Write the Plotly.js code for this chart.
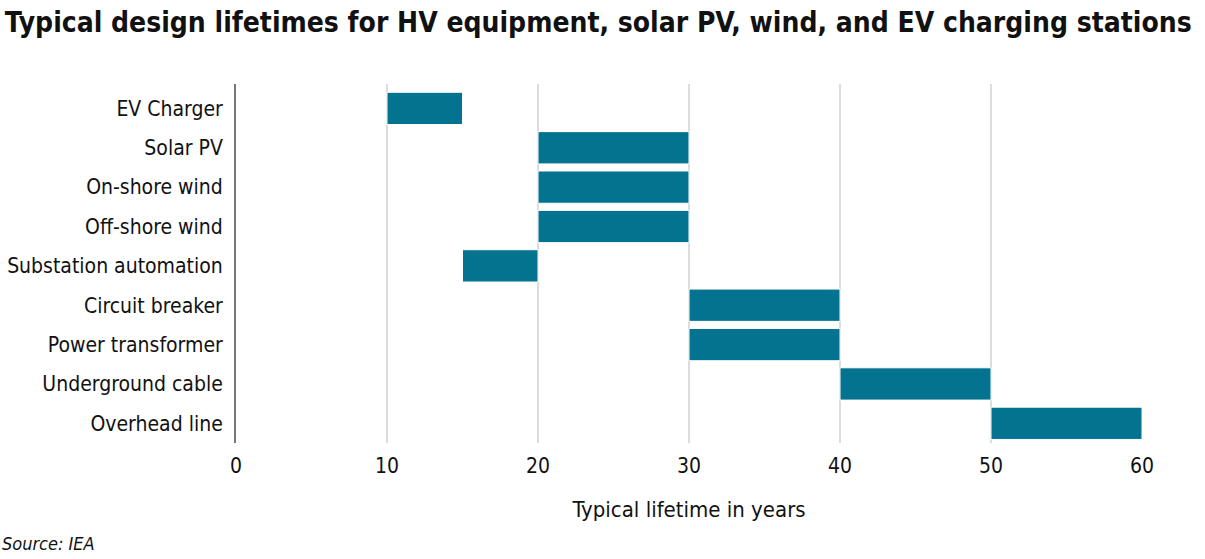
<!DOCTYPE html>
<html><head><meta charset="utf-8">
<script src="https://cdn.plot.ly/plotly-3.0.1.min.js"></script>
<style>body{margin:0;padding:0;background:#fff}#chart{width:1205px;height:559px}</style>
</head><body><div id="chart"></div>
<script>
const categories = ["EV Charger","Solar PV","On-shore wind","Off-shore wind","Substation automation","Circuit breaker","Power transformer","Underground cable","Overhead line"];
const startYears = [10,20,20,20,15,30,30,40,50];
const endYears = [15,30,30,30,20,40,40,50,60];
const xTicks = [0,10,20,30,40,50,60];

const FONT = "'DejaVu Sans Condensed','Liberation Sans Narrow',sans-serif";
const lengths = endYears.map((e,i)=>e-startYears[i]);

const trace = {
  type:'bar', orientation:'h',
  y: categories, x: lengths, base: startYears,
  width: 0.82,
  marker:{color:'#03738f', line:{color:'#ffffff', width:1}},
  hoverinfo:'none'
};

const layout = {
  width:1205, height:559,
  margin:{l:236, r:63, t:84, b:116},
  paper_bgcolor:'#fff', plot_bgcolor:'#fff',
  font:{family:FONT, size:21, color:'#111'},
  showlegend:false,
  title:{text:'<b>Typical design lifetimes for HV equipment, solar PV, wind, and EV charging stations</b>',
    x:0.004, xanchor:'left', y:0.96, yanchor:'middle', font:{family:FONT, size:28, color:'#111'}},
  xaxis:{range:[0,60], tickvals:xTicks, showgrid:true, gridcolor:'#dcdcdc', gridwidth:2,
    zeroline:false, showline:false, ticks:'', ticklen:0, ticklabelstandoff:8,
    tickfont:{family:FONT,size:21,color:'#111'},
    title:{text:'Typical lifetime in years', font:{family:FONT,size:22,color:'#111'}, standoff:24}},
  yaxis:{type:'category', categoryorder:'array', categoryarray:categories, range:[8.5,-0.62],
    showline:true, linecolor:'#777', linewidth:2, showgrid:false, zeroline:false,
    ticks:'', ticklabelstandoff:7, tickfont:{family:FONT,size:21,color:'#111'}},
  annotations:[{text:'<i>Source: IEA</i>', xref:'paper', yref:'paper', x:-236/906, y:-((543-443)/359), showarrow:false,
    xanchor:'left', yanchor:'middle', font:{family:FONT,size:18,color:'#111'}}]
};
Plotly.newPlot('chart',[trace],layout,{displayModeBar:false, staticPlot:true});
</script></body></html>
